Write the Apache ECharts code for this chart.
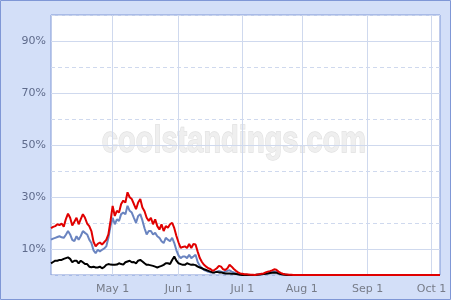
<!DOCTYPE html>
<html>
<head>
<meta charset="utf-8">
<script src="https://cdn.jsdelivr.net/npm/echarts@6/dist/echarts.min.js"></script>
<style>
html,body{margin:0;padding:0;background:#ffffff;}
#chart{width:454px;height:304px;}
</style>
</head>
<body>
<div id="chart"></div>
<script>
// ---- data ----
var seasonMonths = ['Apr','May','Jun','Jul','Aug','Sep','Oct'];
var monthFirstDay = [2,1,1,1,1,1,1];
var monthLastDay = [30,31,30,31,31,30,5];
var skippedDays = ['Jul 13','Jul 14','Jul 15'];
var tickLabels = ['May 1','Jun 1','Jul 1','Aug 1','Sep 1','Oct 1'];
var yTickLabels = [10,30,50,70,90];

var redSeries = [
18.0,18.5,18.8,19.5,19.2,19.8,18.6,21.5,23.6,22.0,
19.0,20.5,22.0,19.5,21.5,23.4,22.0,19.8,18.8,16.9,
12.8,11.0,12.0,12.5,11.7,12.6,13.5,15.6,20.8,26.6,
22.7,24.7,24.0,27.3,28.6,27.9,31.8,29.9,29.2,27.3,
25.3,27.9,29.2,26.0,24.5,22.0,20.8,22.0,19.5,21.4,
18.8,17.5,19.5,16.9,18.8,18.2,19.5,20.1,18.0,15.0,
12.5,10.4,10.8,11.0,10.4,11.9,10.4,11.9,11.7,9.0,
6.5,5.0,3.9,3.2,2.6,2.3,1.6,2.0,2.6,3.5,
3.2,2.2,1.9,2.6,3.9,3.2,2.3,1.6,1.0,0.6,
0.5,0.3,0.3,0.2,0.1,0.1,0,0.2,0.3,0.5,
0.6,1.0,1.3,1.5,1.8,2.2,2.0,1.3,0.8,0.5,
0.3,0.2,0.1,0.1,0,0,0,0,0,0,
0,0,0,0,0,0,0,0,0,0,
0,0,0,0,0,0,0,0,0,0,
0,0,0,0,0,0,0,0,0,0,
0,0,0,0,0,0,0,0,0,0,
0,0,0,0,0,0,0,0,0,0,
0,0,0,0,0,0,0,0,0,0,
0,0,0,0
];
var blueSeries = [
13.6,14.0,14.3,14.6,14.9,14.5,14.3,15.5,16.9,15.6,
13.5,13.0,14.9,13.6,15.0,16.9,16.2,15.6,13.6,12.3,
9.5,8.4,9.7,9.1,9.7,10.2,11.0,14.3,18.8,22.0,
19.5,21.4,20.8,23.4,24.0,23.4,26.6,24.7,24.0,22.0,
20.1,22.7,23.4,21.0,18.0,15.6,16.9,16.9,15.6,16.2,
14.9,14.3,13.0,12.3,14.3,13.6,13.0,14.3,12.3,9.5,
7.5,6.5,7.1,7.1,6.5,7.8,6.5,7.1,7.8,5.0,
3.5,2.6,1.9,1.6,1.2,1.0,1.0,1.0,1.3,1.6,
1.3,1.0,1.3,1.6,1.8,1.3,1.0,0.6,0.4,0.3,
0.2,0.1,0.1,0,0,0,0,0.1,0.2,0.3,
0.4,0.6,0.8,1.0,1.2,1.4,1.2,0.8,0.5,0.3,
0.2,0.1,0,0,0
];
var blackSeries = [
4.5,5.0,5.5,5.5,5.8,5.8,6.2,6.5,6.8,6.2,
4.9,5.5,5.5,4.5,5.5,4.9,4.2,4.2,3.2,3.0,
3.2,2.9,2.9,3.2,2.6,3.0,3.9,4.2,4.0,3.9,
3.9,4.0,4.5,4.2,4.0,4.9,5.2,5.5,4.9,5.0,
4.5,5.5,5.8,5.2,4.5,3.9,3.9,3.7,3.5,3.2,
2.9,3.2,3.5,3.9,4.5,4.5,4.2,5.8,7.1,5.5,
4.5,4.2,3.9,3.9,4.5,4.2,3.9,4.0,3.8,3.2,
2.9,2.6,2.2,1.9,1.6,1.3,1.0,1.0,1.2,1.0,
1.0,0.8,0.6,0.6,0.6,0.5,0.5,0.4,0.3,0.1,
0,0,0,0,0,0,0,0.1,0.2,0.3,
0.4,0.5,0.6,0.8,0.9,1.0,0.9,0.6,0.4,0.2,
0.1,0,0,0,0
];

// build category dates
var categories = [];
for (var m = 0; m < seasonMonths.length; m++) {
  for (var d = monthFirstDay[m]; d <= monthLastDay[m]; d++) {
    var lbl = seasonMonths[m] + ' ' + d;
    if (skippedDays.indexOf(lbl) < 0) categories.push(lbl);
  }
}

var chart = echarts.init(document.getElementById('chart'), null, {renderer:'canvas'});
var isTick = function (idx, val) { return tickLabels.indexOf(val) >= 0; };
var gridCol = '#cfd9ee';
var font = 'DejaVu Sans';

chart.setOption({
  animation: false,
  backgroundColor: '#ffffff',
  graphic: [
    { type:'rect', z:-10, silent:true, shape:{x:0.5,y:0.5,width:450,height:299},
      style:{fill:'#d3dff8', stroke:'#7f97d6', lineWidth:1} },
    { type:'rect', z:-3, silent:true, shape:{x:51,y:15,width:389,height:260},
      style:{fill:'#ffffff'} },
    { type:'text', z:-2, silent:true, x:234, y:142, scaleY:1.3, scaleX:1,
      style:{text:'coolstandings.com', font:'bold 29px "Liberation Sans"', fill:'#efefef',
        stroke:'#e0e0e0', lineWidth:1, align:'center', verticalAlign:'middle'} }
  ],
  grid: [
    { left:51, top:15, width:389, height:260, show:true, backgroundColor:'transparent',
      borderColor:'#7f97d6', borderWidth:1 },
    { left:51, top:41, width:389, height:208, show:false }
  ],
  xAxis: [
    { type:'category', gridIndex:0, data:categories, boundaryGap:false,
      axisLine:{show:false}, axisTick:{show:false},
      axisLabel:{interval:isTick, color:'#777c88', fontFamily:font, fontSize:11, margin:9},
      splitLine:{show:true, interval:isTick, lineStyle:{color:gridCol, width:1}} },
    { type:'value', gridIndex:1, show:false, min:0, max:1 }
  ],
  yAxis: [
    { type:'value', gridIndex:0, min:0, max:100, interval:20,
      axisLine:{show:false}, axisTick:{show:false}, axisLabel:{show:false},
      splitLine:{show:true, lineStyle:{color:gridCol, type:[4,3], width:1}} },
    { type:'value', gridIndex:1, min:yTickLabels[0], max:yTickLabels[yTickLabels.length-1], interval:20,
      axisLine:{show:false}, axisTick:{show:false},
      axisLabel:{formatter:'{value}%', color:'#5f6b8c', fontFamily:font, fontSize:11, margin:5},
      splitLine:{show:true, lineStyle:{color:gridCol, width:1}} }
  ],
  series: [
    { type:'line', name:'blue', data:blueSeries, showSymbol:false, symbol:'none', z:3,
      lineStyle:{color:'#6a84c0', width:2}, xAxisIndex:0, yAxisIndex:0 },
    { type:'line', name:'black', data:blackSeries, showSymbol:false, symbol:'none', z:4,
      lineStyle:{color:'#000000', width:2}, xAxisIndex:0, yAxisIndex:0 },
    { type:'line', name:'red', data:redSeries, showSymbol:false, symbol:'none', z:5,
      lineStyle:{color:'#e00000', width:2}, xAxisIndex:0, yAxisIndex:0 }
  ]
});
</script>
</body>
</html>
